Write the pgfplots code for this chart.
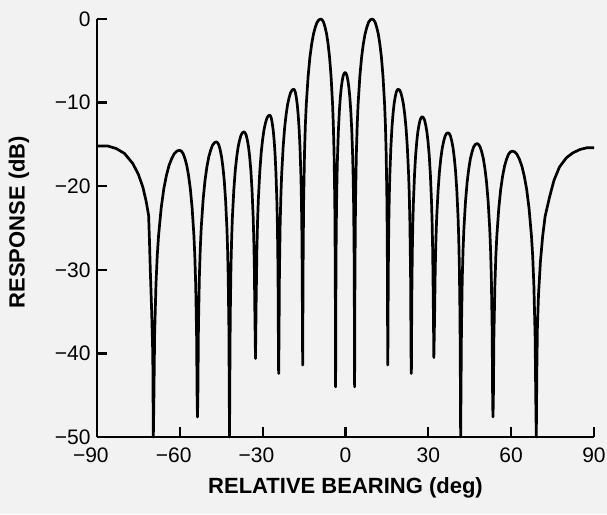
\documentclass[border=0pt]{standalone}
\usepackage{fontspec}
\setmainfont{Liberation Sans}
\usepackage{pgfplots}
\pgfplotsset{compat=1.18}
\definecolor{paper}{RGB}{242,242,242}

\begin{document}
\begin{tikzpicture}
\useasboundingbox (0,0) rectangle (607pt,514pt);
\fill[paper] (0,0) rectangle (607pt,514pt);
\begin{axis}[
  at={(97pt,77pt)}, anchor=south west,
  scale only axis, width=497pt, height=418pt,
  xmin=-90, xmax=90, ymin=-50, ymax=0,
  clip=false,
  axis x line*=bottom, axis y line*=left,
  axis line style={-, line width=2.4pt, black},
  tick align=inside, major tick length=10pt,
  tick style={line width=2.2pt, black},
  xtick={-90,-60,-30,0,30,60,90},
  xticklabels={\llap{−}90,\llap{−}60,\llap{−}30,0,30,60,90},
  ytick={-50,-40,-30,-20,-10,0},
  yticklabels={−50,−40,−30,−20,−10,0},
  xticklabel style={font=\fontsize{21}{24}\selectfont, anchor=center, yshift=-18pt},
  yticklabel style={font=\fontsize{21}{24}\selectfont, anchor=east, xshift=-3pt},
  xlabel={RELATIVE BEARING (deg)},
  ylabel={RESPONSE (dB)},
  label style={font=\fontsize{22}{26}\selectfont\bfseries},
  xlabel style={at={(axis description cs:0.5,-0.122)}, anchor=center},
  ylabel style={at={(axis description cs:-0.157,0.514)}, anchor=center},
]
\addplot[black, line width=2.7pt, line join=round] table {
x y
-90 -15.2
-86 -15.2
-83 -15.5
-80 -16.1
-77 -17.3
-75 -18.6
-73.4 -20.1
-72.2 -21.8
-71.3 -23.5
-71.0 -26.5
-70.7 -30
-70.2 -35
-69.8 -40
-69.6 -50
-69.41 -45.8
-69.13 -37.8
-68.65 -31.8
-68.18 -28.3
-67.70 -25.9
-66.75 -22.6
-65.80 -20.3
-64.85 -18.7
-63.90 -17.5
-62.95 -16.7
-62.00 -16.1
-61.05 -15.8
-60.10 -15.7
-59.45 -15.8
-58.80 -16.1
-58.15 -16.7
-57.50 -17.5
-56.85 -18.7
-56.20 -20.3
-55.55 -22.6
-54.90 -25.9
-54.58 -28.3
-54.25 -31.8
-53.93 -37.8
-53.73 -45.8
-53.60 -47.6
-53.46 -44.8
-53.26 -36.8
-52.92 -30.8
-52.58 -27.3
-52.24 -24.9
-51.56 -21.6
-50.88 -19.3
-50.20 -17.7
-49.52 -16.5
-48.84 -15.7
-48.16 -15.1
-47.48 -14.8
-46.80 -14.7
-46.32 -14.8
-45.84 -15.1
-45.36 -15.7
-44.88 -16.5
-44.40 -17.7
-43.92 -19.3
-43.44 -21.6
-42.96 -24.9
-42.72 -27.3
-42.48 -30.8
-42.24 -36.8
-42.10 -44.8
-42.00 -50
-41.90 -43.6
-41.74 -35.6
-41.48 -29.6
-41.22 -26.1
-40.96 -23.7
-40.44 -20.4
-39.92 -18.1
-39.40 -16.5
-38.88 -15.3
-38.36 -14.5
-37.84 -13.9
-37.32 -13.6
-36.80 -13.5
-36.38 -13.6
-35.96 -13.9
-35.54 -14.5
-35.12 -15.3
-34.70 -16.5
-34.28 -18.1
-33.86 -20.4
-33.44 -23.7
-33.23 -26.1
-33.02 -29.6
-32.81 -35.6
-32.60 -40.6
-32.35 -33.6
-32.09 -27.6
-31.84 -24.1
-31.58 -21.7
-31.07 -18.4
-30.56 -16.1
-30.05 -14.5
-29.54 -13.3
-29.03 -12.5
-28.52 -11.9
-28.01 -11.6
-27.50 -11.5
-27.17 -11.6
-26.84 -11.9
-26.51 -12.5
-26.18 -13.3
-25.85 -14.5
-25.52 -16.1
-25.19 -18.4
-24.86 -21.7
-24.70 -24.1
-24.53 -27.6
-24.37 -33.6
-24.27 -41.6
-24.20 -42.4
-24.09 -38.5
-23.93 -30.5
-23.66 -24.5
-23.39 -21.0
-23.12 -18.6
-22.58 -15.3
-22.04 -13.0
-21.50 -11.4
-20.96 -10.2
-20.42 -9.4
-19.88 -8.8
-19.34 -8.5
-18.80 -8.4
-18.47 -8.5
-18.14 -8.8
-17.81 -9.4
-17.48 -10.2
-17.15 -11.4
-16.82 -13.0
-16.49 -15.3
-16.16 -18.6
-16.00 -21.0
-15.83 -24.5
-15.67 -30.5
-15.57 -38.5
-15.50 -41.4
-15.44 -36.1
-15.37 -30.1
-15.18 -22.1
-14.85 -16.1
-14.53 -12.6
-14.20 -10.2
-13.55 -6.9
-12.90 -4.6
-12.25 -3.0
-11.60 -1.8
-10.95 -1.0
-10.30 -0.4
-9.65 -0.1
-9.00 0
-8.46 -0.1
-7.92 -0.4
-7.38 -1.0
-6.84 -1.8
-6.30 -3.0
-5.76 -4.6
-5.22 -6.9
-4.68 -10.2
-4.41 -12.6
-4.14 -16.1
-3.87 -22.1
-3.71 -30.1
-3.65 -36.1
-3.60 -44
-3.57 -42.5
-3.53 -36.5
-3.43 -28.5
-3.26 -22.5
-3.08 -19.0
-2.91 -16.6
-2.57 -13.3
-2.22 -11.0
-1.88 -9.4
-1.53 -8.2
-1.19 -7.4
-0.84 -6.8
-0.50 -6.5
-0.15 -6.4
0.20 -6.5
0.54 -6.8
0.89 -7.4
1.23 -8.2
1.58 -9.4
1.92 -11.0
2.27 -13.3
2.61 -16.6
2.78 -19.0
2.96 -22.5
3.13 -28.5
3.23 -36.5
3.27 -42.5
3.30 -44
3.36 -36.1
3.43 -30.1
3.62 -22.1
3.93 -16.1
4.25 -12.6
4.56 -10.2
5.19 -6.9
5.82 -4.6
6.45 -3.0
7.08 -1.8
7.71 -1.0
8.34 -0.4
8.97 -0.1
9.60 0
10.17 -0.1
10.74 -0.4
11.31 -1.0
11.88 -1.8
12.45 -3.0
13.02 -4.6
13.59 -6.9
14.16 -10.2
14.45 -12.6
14.73 -16.1
15.02 -22.1
15.19 -30.1
15.24 -36.1
15.30 -41.4
15.38 -38.5
15.49 -30.5
15.68 -24.5
15.87 -21.0
16.06 -18.6
16.44 -15.3
16.82 -13.0
17.20 -11.4
17.58 -10.2
17.96 -9.4
18.34 -8.8
18.72 -8.5
19.10 -8.4
19.57 -8.5
20.04 -8.8
20.51 -9.4
20.98 -10.2
21.45 -11.4
21.92 -13.0
22.39 -15.3
22.86 -18.6
23.10 -21.0
23.33 -24.5
23.57 -30.5
23.71 -38.5
23.80 -42.4
23.88 -41.8
24.00 -33.8
24.20 -27.8
24.40 -24.3
24.60 -21.9
25.00 -18.6
25.40 -16.3
25.80 -14.7
26.20 -13.5
26.60 -12.7
27.00 -12.1
27.40 -11.8
27.80 -11.7
28.22 -11.8
28.64 -12.1
29.06 -12.7
29.48 -13.5
29.90 -14.7
30.32 -16.3
30.74 -18.6
31.16 -21.9
31.37 -24.3
31.58 -27.8
31.79 -33.8
32.00 -40.5
32.26 -35.7
32.51 -29.7
32.77 -26.2
33.02 -23.8
33.53 -20.5
34.04 -18.2
34.55 -16.6
35.06 -15.4
35.57 -14.6
36.08 -14.0
36.59 -13.7
37.10 -13.6
37.56 -13.7
38.02 -14.0
38.48 -14.6
38.94 -15.4
39.40 -16.6
39.86 -18.2
40.32 -20.5
40.78 -23.8
41.01 -26.2
41.24 -29.7
41.47 -35.7
41.61 -43.7
41.70 -50
41.82 -45.0
42.00 -37.0
42.29 -31.0
42.59 -27.5
42.88 -25.1
43.47 -21.8
44.06 -19.5
44.65 -17.9
45.24 -16.7
45.83 -15.9
46.42 -15.3
47.01 -15.0
47.60 -14.9
48.18 -15.0
48.76 -15.3
49.34 -15.9
49.92 -16.7
50.50 -17.9
51.08 -19.5
51.66 -21.8
52.24 -25.1
52.53 -27.5
52.82 -31.0
53.11 -37.0
53.28 -45.0
53.40 -47.6
53.54 -45.9
53.75 -37.9
54.10 -31.9
54.45 -28.4
54.80 -26.0
55.50 -22.7
56.20 -20.4
56.90 -18.8
57.60 -17.6
58.30 -16.8
59.00 -16.2
59.70 -15.9
60.40 -15.8
61.27 -15.9
62.14 -16.2
63.01 -16.8
63.88 -17.6
64.75 -18.8
65.62 -20.4
66.49 -22.7
67.36 -26.0
67.80 -28.4
68.23 -31.9
68.67 -37.9
68.93 -45.9
69.10 -50
69.30 -42
69.50 -37
69.90 -33
70.60 -29
71.40 -26
72.30 -23.6
73.90 -21.3
75.50 -19.3
77.50 -17.7
80.00 -16.6
82.40 -16.0
85.00 -15.6
87.50 -15.4
90.00 -15.4
};
\end{axis}
\end{tikzpicture}
\end{document}
